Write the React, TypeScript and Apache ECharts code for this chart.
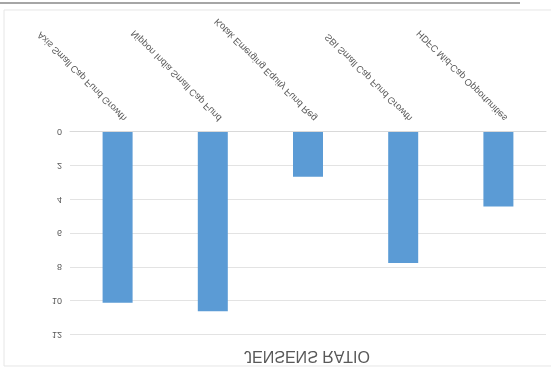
import React, { useEffect, useRef } from "react";
import * as echarts from "echarts";

const categories = [
  "Axis Small Cap Fund Growth",
  "Nippon India Small Cap Fund",
  "Kotak Emerging Equity Fund Reg",
  "SBI Small Cap Fund Growth",
  "HDFC Mid-Cap Opportunities",
];
const jensensRatio = [10.1, 10.6, 2.65, 7.75, 4.4];
const yTicks = { min: 0, max: 12, interval: 2 };
const titleText = "JENSENS RATIO";

export default function App() {
  const ref = useRef<HTMLDivElement>(null);
  useEffect(() => {
    if (!ref.current) return;
    const chart = echarts.init(ref.current, null, { renderer: "svg" });
    chart.setOption({
      animation: false,
      backgroundColor: "#ffffff",
      title: {
        text: titleText,
        left: 302,
        top: 4,
        textAlign: "center",
        textStyle: {
          fontFamily: "Liberation Sans, Arial, sans-serif",
          fontSize: 16,
          fontWeight: "normal",
          color: "#595959",
        },
      },
      grid: { left: 70, right: 5, top: 39, bottom: 132, containLabel: false },
      xAxis: {
        type: "category",
        data: categories,
        axisLine: { show: true, lineStyle: { color: "#d9d9d9" } },
        axisTick: { show: false },
        axisLabel: {
          rotate: 45,
          interval: 0,
          margin: 5,
          fontSize: 9.5,
          lineHeight: 20,
          verticalAlign: "top",
          color: "#595959",
          fontFamily: "Liberation Sans, Arial, sans-serif",
        },
      },
      yAxis: {
        type: "value",
        min: yTicks.min,
        max: yTicks.max,
        interval: yTicks.interval,
        axisLine: { show: false },
        axisTick: { show: false },
        splitLine: { lineStyle: { color: "#e3e3e3", width: 1 } },
        axisLabel: {
          margin: 8,
          fontSize: 9,
          color: "#595959",
          fontFamily: "Liberation Sans, Arial, sans-serif",
        },
      },
      series: [
        {
          type: "bar",
          data: jensensRatio,
          barWidth: 30,
          itemStyle: { color: "#5b9bd5" },
        },
      ],
      graphic: [
        {
          type: "rect",
          shape: { x: 4, y: 8, width: 560, height: 356 },
          style: { fill: "none", stroke: "#e6e6e6", lineWidth: 1 },
          silent: true,
        },
        {
          type: "line",
          shape: { x1: 0, y1: 371, x2: 520, y2: 371 },
          style: { stroke: "#a6a6a6", lineWidth: 2 },
          silent: true,
        },
      ],
    });
    return () => chart.dispose();
  }, []);
  return (
    <div
      ref={ref}
      style={{
        position: "fixed",
        left: 0,
        top: 0,
        width: 551,
        height: 374,
        transform: "scaleY(-1)",
      }}
    />
  );
}
